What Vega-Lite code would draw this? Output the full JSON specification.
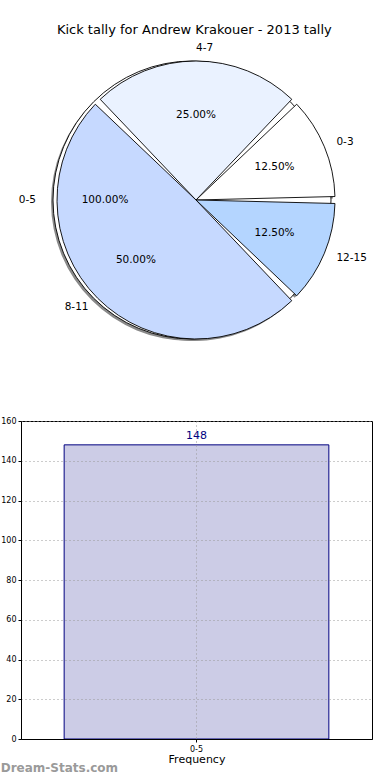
{
  "$schema": "https://vega.github.io/schema/vega-lite/v6.json",
  "padding": {"left": 0, "right": 0, "top": 24, "bottom": 0},
  "background": "white",
  "title": {"text": "Kick tally for Andrew Krakouer - 2013 tally", "fontSize": 13, "font": "DejaVu Sans", "fontWeight": "normal", "anchor": "middle", "offset": 6, "dx": 8, "color": "#000000"},
  "config": {"font": "DejaVu Sans", "view": {"stroke": null}},
  "spacing": 61,
  "vconcat": [
    {
      "width": 350,
      "height": 310,
      "view": {"stroke": null},
      "layer": [
        {
          "data": {"values": [{"label": "0-5", "frac": 1.0, "idx": 0}]},
          "mark": {"type": "arc", "radius": 139, "fill": "#8a8a8a", "xOffset": -6, "yOffset": 2},
          "encoding": {"theta": {"field": "frac", "type": "quantitative", "stack": true, "scale": {"range": [1.5708, -4.7124]}}}
        },
        {
          "data": {"name": "slices"},
          "mark": {"type": "arc", "radius": 139, "padAngle": 0.05, "fill": "#8a8a8a", "xOffset": -2, "yOffset": 2},
          "encoding": {
            "theta": {"field": "frac", "type": "quantitative", "stack": true, "scale": {"range": [1.5708, -4.7124]}},
            "order": {"field": "idx", "type": "quantitative"}
          }
        },
        {
          "data": {"values": [{"label": "0-5", "frac": 1.0, "idx": 0}]},
          "mark": {"type": "arc", "radius": 139, "fill": "#ffffff", "stroke": "#000000", "strokeWidth": 0.9, "xOffset": -4},
          "encoding": {"theta": {"field": "frac", "type": "quantitative", "stack": true, "scale": {"range": [1.5708, -4.7124]}}}
        },
        {
          "data": {"name": "slices"},
          "mark": {"type": "arc", "radius": 139, "padAngle": 0.05, "stroke": "#000000", "strokeWidth": 0.9},
          "encoding": {
            "theta": {"field": "frac", "type": "quantitative", "stack": true, "scale": {"range": [1.5708, -4.7124]}},
            "order": {"field": "idx", "type": "quantitative"},
            "color": {"field": "label", "type": "nominal", "legend": null, "scale": {"domain": ["0-3", "4-7", "8-11", "12-15"], "range": ["#FFFFFF", "#EAF2FF", "#C6D9FF", "#B4D5FF"]}}
          }
        },
        {
          "data": {"name": "slices"},
          "mark": {"type": "text", "radius": 152, "fontSize": 10.5, "baseline": "middle", "color": "#000000", "align": {"expr": "cos(PI * (datum.frac_start + datum.frac_end)) > -0.000001 ? 'left' : 'right'"}},
          "encoding": {
            "theta": {"field": "frac", "type": "quantitative", "stack": true, "scale": {"range": [1.5708, -4.7124]}},
            "order": {"field": "idx", "type": "quantitative"},
            "text": {"field": "label", "type": "nominal"}
          }
        },
        {
          "data": {"name": "slices"},
          "mark": {"type": "text", "radius": 85, "fontSize": 10.5, "baseline": "middle", "align": "center", "color": "#000000"},
          "encoding": {
            "theta": {"field": "frac", "type": "quantitative", "stack": true, "scale": {"range": [1.5708, -4.7124]}},
            "order": {"field": "idx", "type": "quantitative"},
            "text": {"field": "frac", "type": "quantitative", "format": ".2%"}
          }
        },
        {
          "data": {"values": [{"label": "0-5", "frac": 1.0, "idx": 0}]},
          "mark": {"type": "text", "radius": 156, "fontSize": 10.5, "baseline": "middle", "align": "right", "xOffset": -4, "color": "#000000"},
          "encoding": {
            "theta": {"field": "frac", "type": "quantitative", "stack": true, "scale": {"range": [1.5708, -4.7124]}},
            "text": {"field": "label", "type": "nominal"}
          }
        },
        {
          "data": {"values": [{"label": "0-5", "frac": 1.0, "idx": 0}]},
          "mark": {"type": "text", "radius": 87, "fontSize": 10.5, "baseline": "middle", "align": "center", "xOffset": -4, "color": "#000000"},
          "encoding": {
            "theta": {"field": "frac", "type": "quantitative", "stack": true, "scale": {"range": [1.5708, -4.7124]}},
            "text": {"field": "frac", "type": "quantitative", "format": ".2%"}
          }
        }
      ]
    },
    {
      "width": 351,
      "height": 318,
      "view": {"stroke": "#000000", "strokeWidth": 1},
      "data": {"values": [{"bin": "0-5", "count": 148}]},
      "title": {"text": "Dream-Stats.com", "orient": "bottom", "anchor": "start", "frame": "bounds", "fontSize": 12, "fontWeight": "bold", "color": "#9a9a9a", "offset": -1},
      "encoding": {
        "x": {"field": "bin", "type": "nominal", "scale": {"paddingInner": 0, "paddingOuter": 0.163},
          "axis": {"title": "Frequency", "zindex": 1, "titleFontSize": 11, "titleFontWeight": "normal", "titleColor": "#000000", "titlePadding": 0, "labelAngle": 0, "labelFontSize": 8, "labelColor": "#000000", "labelPadding": 3, "tickSize": 3, "tickColor": "#000000", "domainColor": "#000000", "grid": true, "gridDash": [1, 3], "gridColor": "#999999", "gridWidth": 1}},
        "y": {"field": "count", "type": "quantitative", "scale": {"domain": [0, 160]},
          "axis": {"title": null, "zindex": 1, "values": [0, 20, 40, 60, 80, 100, 120, 140, 160], "labelFontSize": 8, "labelColor": "#000000", "labelPadding": 2, "tickSize": 3, "tickColor": "#000000", "domainColor": "#000000", "grid": true, "gridDash": [1, 3], "gridColor": "#999999", "gridWidth": 1}}
      },
      "layer": [
        {"mark": {"type": "bar", "fill": "#CCCCE6", "stroke": "#000080", "strokeWidth": 1}},
        {"mark": {"type": "text", "baseline": "bottom", "dy": -4, "color": "#000080", "fontSize": 11}, "encoding": {"text": {"field": "count", "type": "quantitative"}}}
      ]
    }
  ],
  "datasets": {
    "slices": [
      {"label": "0-3", "frac": 0.125, "idx": 0},
      {"label": "4-7", "frac": 0.25, "idx": 1},
      {"label": "8-11", "frac": 0.5, "idx": 2},
      {"label": "12-15", "frac": 0.125, "idx": 3}
    ]
  }
}
